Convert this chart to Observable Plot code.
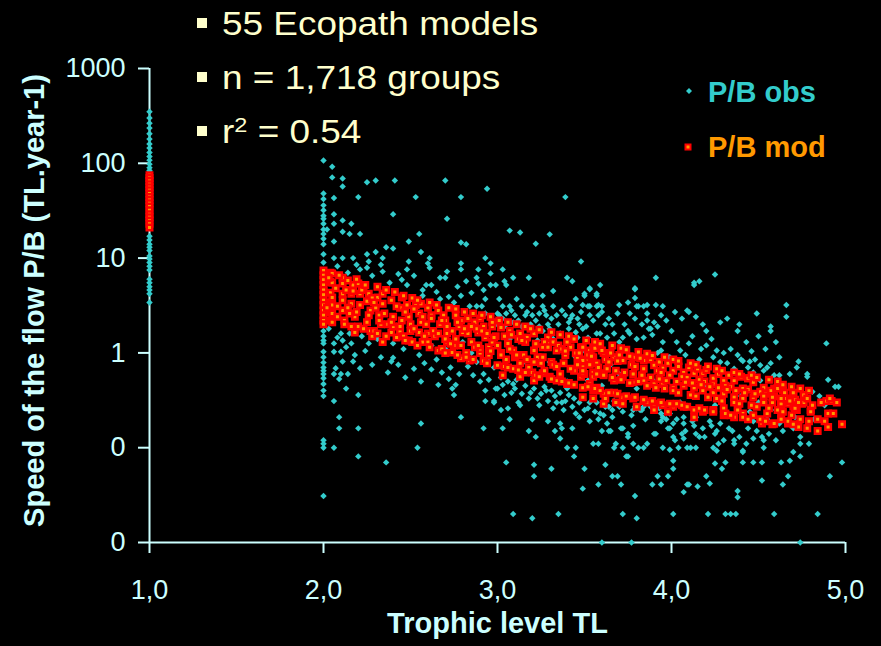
<!DOCTYPE html>
<html>
<head>
<meta charset="utf-8">
<script src="https://cdn.jsdelivr.net/npm/d3@7"></script>
<script src="https://cdn.jsdelivr.net/npm/@observablehq/plot@0.6"></script>
<style>
  html, body { margin: 0; padding: 0; background: #000; }
  #chart { width: 881px; height: 646px; }
</style>
</head>
<body>
<div id="chart"></div>
<script>
// Production/biomass ratio (P/B, per year) of functional groups against trophic level,
// observed values and values predicted by the empirical model.

const xTicks = [1, 2, 3, 4, 5];
const yTicks = [0.01, 0.1, 1, 10, 100, 1000];

const noteLines = ["55 Ecopath models", "n = 1,718 groups", "r2 = 0.54"];
const legendLabels = ["P/B obs", "P/B mod"];

// Observed P/B of primary producers (TL = 1)
const obsProducers = [350, 300, 265, 235, 205, 180, 160, 145, 130, 118, 108, 98, 90, 84, 80,
  17, 15.5, 14, 13, 12, 10.5, 9.8, 9, 8.2, 7.5, 6, 5.5, 5, 4.6, 4.2, 3.4];

// Observed P/B of herbivores / detritivores (TL = 2)
const obsHerbivores = [107, 48, 42, 36, 32, 28, 26, 23, 20, 18, 16, 14, 11, 9, 7, 5.5, 4, 3, 2.4,
  1.7, 1.5, 1.35, 1.26, 1.03, 0.9, 0.79, 0.7, 0.65, 0.6, 0.54, 0.47, 0.4, 0.35, 0.12, 0.11, 0.1, 0.031];

// Observed [TL, P/B] for consumers, TL 2 to 3
const obsLow = [
  [2.05,92],[2.05,71],[2.11,69],[2.11,57],[2.25,63],[2.30,66],[2.41,66],[2.70,66],[2.94,54],[2.20,44],[2.06,43],[2.53,44],[2.79,44],
  [2.06,29],[2.11,25],[2.06,23],[2.16,23],[2.40,29],[2.71,26],[2.02,20],[2.11,19],[2.15,18],[2.21,18],[2.55,18],[2.06,15],[2.49,15],
  [2.79,14.6],[2.82,14],[2.36,13],[2.40,12.6],[2.25,11],[2.30,11.6],[2.56,11.6],[2.06,10],[2.11,10],[2.17,10],[2.34,10],[2.93,10],
  [2.26,9.2],[2.49,9.2],[2.61,10],[2.60,8.8],[2.79,8.8],[2.96,8.8],[2.25,7.9],[2.34,7.2],[2.48,7.6],[2.61,7.9],[2.71,7.2],[2.79,7.6],
  [2.89,7.6],[2.21,7.6],[2.96,6.9],[2.45,5.9],[2.67,6.2],[2.70,6.2],[2.88,6.2],[2.82,5.7],[2.48,5.2],[2.59,5.2],[2.62,5.2],[2.89,5.4],
  [2.96,5.2],[2.99,5.2],[2.79,4.0],[2.57,4.0],[2.67,3.7],[2.93,3.7],[2.75,3.4],[2.84,3.1],[2.88,3.1],[2.91,3.1],[2.93,2.6],[3.0,2.6],
  [2.10,1.6],[2.11,1.35],[2.06,1.26],[2.16,1.26],[2.26,1.26],[2.40,1.26],[2.06,1.03],[2.10,1.03],[2.11,0.81],[2.17,0.81],[2.21,0.69],
  [2.07,0.69],[2.06,0.6],[2.10,0.6],[2.14,0.6],[2.09,0.53],[2.13,0.42],[2.20,0.36],[2.06,0.31],[2.09,0.21],[2.09,0.16],[2.20,0.16],
  [2.06,0.1],[2.20,0.081],[2.36,0.07],[2.54,0.1],[2.56,0.18],[2.79,0.21],[2.92,0.16],[2.40,0.89],[2.39,0.81],[2.46,1.1],[2.62,0.67],
  [2.56,0.5],[2.66,0.46],[2.72,0.53],[2.76,0.46],[2.74,0.42],[2.75,0.36],[2.78,0.6],[2.90,0.5],[2.93,0.4],[2.93,0.31],[2.98,0.31],
  [2.99,0.42],[2.98,0.3],[2.15,1.6],[2.22,1.5],[2.31,1.4],[2.50,1.3],[2.62,1.2],[2.70,1.1],[2.85,1.0],[2.95,0.9],[2.88,0.8],[2.65,0.85],
  [2.55,0.95],[2.80,1.3],[2.98,0.7],[2.92,0.6],
  [2.03,1.8],[2.08,1.45],[2.13,1.15],[2.18,0.95],[2.24,1.05],[2.28,0.75],[2.33,0.9],[2.37,0.62],[2.43,0.75],[2.47,0.55],[2.52,0.68],
  [2.58,0.78],[2.68,0.62],[2.73,0.7],[2.83,0.72],[2.86,0.58],[2.95,0.52],[2.08,8.2],[2.14,7.0],[2.19,8.5],[2.28,6.5],[2.33,8.5],
  [2.38,5.5],[2.43,6.8],[2.52,6.5],[2.57,4.6],[2.65,4.4],[2.72,3.9],[2.77,5.0],[2.85,4.3],[2.92,4.6]
];

// Observed [TL, P/B] for consumers, TL 3 to 4
const obsMid = [
  [3.39,44],[3.07,19.5],[3.13,18.6],[3.30,17.8],[3.22,14.2],[3.48,9.2],[3.03,7.6],[3.09,6.2],[3.18,6.2],[3.40,6.2],[3.43,5.7],[3.91,6.2],
  [3.04,5.7],[3.05,5.2],[3.59,5.2],[3.53,4.7],[3.79,4.7],[3.32,4.5],[3.21,4.0],[3.26,4.0],[3.50,4.0],[3.57,4.0],[3.79,3.8],[3.45,3.7],
  [3.11,3.7],[3.01,3.7],[3.70,3.2],[3.75,3.4],[3.86,3.2],[3.91,3.2],[3.95,3.1],[3.03,3.1],[3.07,3.1],[3.14,3.1],[3.20,3.1],[3.26,3.1],
  [3.32,3.1],[3.42,3.1],[3.49,3.2],[3.52,3.1],[3.57,3.1],[3.60,3.1],[3.80,3.1],[3.84,3.1],[3.01,2.5],[3.05,2.6],[3.10,2.5],[3.16,2.5],
  [3.20,2.5],[3.24,2.6],[3.28,2.5],[3.34,2.5],[3.39,2.5],[3.43,2.5],[3.46,2.3],[3.53,2.5],[3.58,2.5],[3.76,2.6],[3.86,2.6],[3.94,2.5],
  [2.99,2.0],[3.04,1.9],[3.09,2.1],[3.14,1.9],[3.19,2.0],[3.24,1.9],[3.29,2.0],[3.35,2.0],[3.41,2.1],[3.47,2.0],[3.51,1.9],[3.62,2.0],
  [3.66,2.0],[3.79,2.3],[3.86,2.2],[3.90,2.1],[3.88,1.8],[3.26,1.7],[3.30,1.8],[3.36,1.6],[3.41,1.8],[3.45,1.65],[3.49,1.8],[3.57,1.6],
  [3.67,1.6],[3.72,1.45],[3.75,1.7],[3.80,1.4],[3.84,1.45],[3.95,1.3],[3.92,1.0],[3.99,0.9],[3.70,1.3],[3.63,1.45],[3.52,1.45],[3.46,1.45],
  [3.32,1.4],[3.23,1.35],[3.14,1.4],[3.07,1.4],[3.59,1.6],[3.71,1.15],[3.76,1.6],[3.87,1.8],[3.89,1.55],[3.94,1.06],[3.98,0.9],[3.49,1.06],
  [3.00,0.42],[3.03,0.46],[3.09,0.47],[3.14,0.37],[3.18,0.33],[3.25,0.37],[3.29,0.31],[3.34,0.3],[3.37,0.3],[3.41,0.36],[3.45,0.23],
  [3.47,0.21],[3.53,0.3],[3.52,0.26],[3.57,0.3],[3.64,0.27],[3.69,0.3],[3.72,0.24],[3.80,0.26],[3.84,0.27],[3.86,0.31],[3.02,0.25],
  [3.06,0.26],[3.07,0.2],[3.03,0.16],[3.20,0.2],[3.29,0.19],[3.18,0.15],[3.22,0.13],[3.33,0.15],[3.36,0.18],[3.37,0.16],[3.43,0.16],
  [3.36,0.125],[3.53,0.19],[3.58,0.2],[3.63,0.18],[3.60,0.15],[3.65,0.15],[3.72,0.16],[3.78,0.17],[3.75,0.14],[3.55,0.11],[3.58,0.11],
  [3.68,0.11],[3.67,0.1],[3.72,0.1],[3.40,0.1],[3.45,0.1],[3.81,0.1],[3.84,0.1],[3.90,0.14],[3.94,0.19],[3.98,0.16],[3.95,0.1],[3.99,0.095],
  [3.44,0.081],[3.75,0.081],[3.05,0.07],[3.21,0.066],[3.31,0.06],[3.50,0.06],[3.62,0.066],[3.21,0.05],[3.66,0.05],[3.69,0.05],[3.92,0.05],
  [3.98,0.05],[3.58,0.041],[3.71,0.041],[3.89,0.041],[3.94,0.041],[3.49,0.037],[3.79,0.031],[3.09,0.02],[3.20,0.018],[3.35,0.02],
  [3.72,0.02],[3.80,0.018],[3.60,0.01],[3.77,0.01],[3.79,4.8],[3.53,4.8],[3.50,4.2],[3.57,4.2],[3.53,3.1],[3.58,3.2],[3.81,3.1],
  [3.52,0.51],[3.49,0.34],[3.62,0.27],[3.67,0.31],[3.72,0.3],[3.79,0.27],[3.83,0.25],[3.94,0.23],[3.59,0.23],[3.66,0.25],[3.78,0.25],
  [3.82,0.25],[3.71,0.16],[3.64,0.15],[3.75,0.13],[3.78,0.11],[3.86,0.11],[3.74,0.081],[3.91,0.14],[3.99,0.16],[3.95,0.21],[3.99,0.23],
  [3.1,1.0],[3.3,0.8],[3.5,0.7],[3.7,0.6],[3.9,0.5],[3.2,0.6],[3.4,0.5],[3.6,0.45],[3.8,0.42],[3.15,0.8],[3.45,0.9],[3.65,0.75],
  [3.02,0.55],[3.06,0.5],[3.11,0.52],[3.16,0.45],[3.21,0.42],[3.27,0.44],[3.31,0.4],[3.36,0.38],[3.40,0.42],[3.44,0.33],[3.08,0.38],
  [3.12,0.3],[3.24,0.28],[3.32,0.26],[3.38,0.25],
  [3.03,2.3],[3.08,2.8],[3.12,2.2],[3.17,2.7],[3.22,2.2],[3.27,2.8],[3.31,2.3],[3.37,2.8],[3.42,2.3],[3.48,2.7],[3.55,2.2],[3.6,2.7],
  [3.64,2.3],[3.69,2.6],[3.73,2.0],[3.83,2.0],[3.92,1.9],[3.97,2.2],[3.04,0.36],[3.1,0.42],[3.13,0.28],[3.19,0.38],[3.23,0.33],
  [3.28,0.4],[3.33,0.35],[3.39,0.31],[3.43,0.27],[3.47,0.3],[3.5,0.25],[3.56,0.24],[3.61,0.22],[3.66,0.21],[3.7,0.27],[3.77,0.22],
  [3.85,0.2],[3.88,0.27],[3.93,0.26],[3.97,0.2]
];

// Observed [TL, P/B] for consumers, TL 4 to 5
const obsHigh = [
  [4.25,6.7],[4.13,5.5],[4.13,5.2],[4.16,5.7],[4.66,3.2],[4.66,2.4],[4.49,2.6],[4.32,2.3],[4.39,2.0],[4.38,1.7],[4.57,1.9],[4.57,1.7],
  [4.60,1.3],[4.89,1.26],[4.06,2.3],[4.14,2.4],[4.18,2.0],[4.02,2.7],[4.10,2.7],[4.09,2.8],[4.00,1.7],[4.23,1.4],[4.46,1.04],[4.54,1.1],
  [4.40,0.85],[4.45,0.81],[4.73,0.81],[4.72,0.7],[4.78,0.6],[4.78,0.56],[4.62,0.58],[4.59,0.58],[4.90,0.52],[4.94,0.44],[4.96,0.44],
  [4.81,0.39],[4.66,0.31],[4.71,0.21],[4.74,0.13],[4.74,0.11],[4.79,0.11],[4.70,0.09],[4.74,0.081],[4.98,0.07],[4.91,0.05],[4.67,0.05],
  [4.64,0.041],[4.68,0.073],[4.63,0.07],[4.52,0.045],[4.52,0.07],[4.47,0.07],[4.38,0.035],[4.38,0.03],[4.41,0.07],[4.41,0.09],[4.36,0.11],
  [4.53,0.12],[4.53,0.1],[4.31,0.07],[4.29,0.06],[4.25,0.068],[4.20,0.05],[4.22,0.042],[4.15,0.039],[4.10,0.041],[4.07,0.034],[4.01,0.02],
  [4.21,0.02],[4.31,0.02],[4.34,0.02],[4.37,0.02],[4.59,0.02],[4.84,0.02],[4.74,0.01],[4.01,0.073],[4.01,0.06],[4.09,0.041],[4.07,0.125],
  [4.01,0.13],[4.04,0.1],[4.09,0.1],[4.11,0.1],[4.14,0.1],[4.24,0.1],[4.26,0.093],[4.06,0.14],[4.14,0.14],[4.02,0.12],[4.07,0.21],
  [4.14,0.21],[4.18,0.16],[4.25,0.14],[4.30,0.12],[4.36,0.12],[4.41,0.093],[4.47,0.125],[4.52,0.13],[4.44,0.16],[4.47,0.19],[4.35,0.15],
  [4.22,0.19],[4.28,0.18],[4.01,0.18],[4.07,0.18],[4.05,1.06],[4.10,1.26],[4.17,1.1],[4.24,0.9],[4.30,1.0],[4.36,0.68],[4.41,0.82],
  [4.47,0.62],[4.51,0.51],[4.32,0.78],[4.26,1.06],[4.44,0.7],[4.51,0.74],[4.53,0.65],[4.57,0.78],[4.1,0.5],[4.2,0.45],[4.3,0.4],
  [4.4,0.35],[4.5,0.3],[4.6,0.25],[4.05,0.3],[4.15,0.25],[4.25,0.28],[4.35,0.22],[4.45,0.24],[4.55,0.2],[4.62,0.18],[4.7,0.16],
  [4.82,0.2],[4.88,0.28],[4.85,0.35],[4.13,0.17],[4.16,0.13],[4.26,0.15],
  [4.03,0.2],[4.08,0.15],[4.12,0.19],[4.19,0.13],[4.23,0.17],[4.27,0.11],[4.33,0.16],[4.39,0.13],[4.43,0.11],[4.49,0.15],[4.56,0.14],
  [4.6,0.12],[4.64,0.15],[4.03,1.3],[4.08,0.95],[4.12,1.5],[4.16,0.85],[4.2,1.2],[4.28,0.8],[4.34,1.1],[4.38,0.95],[4.43,1.3],
  [4.48,0.85],[4.55,0.7],[4.62,0.9],[4.68,0.6],[4.5,1.5],[4.2,1.7],[4.28,2.1]
];

// Modelled P/B of primary producers (TL = 1)
const modProducers = [75, 70, 65, 60, 56, 52, 48, 44, 41, 38, 35, 32, 29, 27, 25, 23, 21];

// Modelled [TL, P/B] for consumers, TL 2 to 3
const modLow = [
  [2.0,7.4],[2.0,6.6],[2.0,5.9],[2.0,5.2],[2.0,4.6],[2.0,4.1],[2.0,3.6],[2.0,3.2],[2.0,2.8],[2.0,2.5],[2.0,2.2],[2.0,2.0],
  [2.04,7.0],[2.04,5.6],[2.04,4.3],[2.04,3.4],[2.04,2.7],[2.04,2.2],[2.05,6.9],[2.05,5.5],[2.11,6.2],[2.11,5.4],[2.11,4.2],[2.11,3.6],
  [2.11,2.8],[2.05,3.85],[2.05,3.2],[2.05,2.6],[2.05,2.1],[2.17,5.2],[2.16,4.2],[2.16,3.3],[2.20,5.4],[2.21,4.2],[2.21,3.2],[2.18,2.4],
  [2.18,1.64],[2.23,4.9],[2.26,4.2],[2.27,2.8],[2.25,2.1],[2.27,1.7],[2.31,3.85],[2.32,2.5],[2.33,2.0],[2.34,4.2],[2.39,3.6],[2.40,2.4],
  [2.40,1.9],[2.39,1.64],[2.34,1.3],[2.45,3.85],[2.44,3.0],[2.48,3.2],[2.44,1.7],[2.46,1.5],[2.49,2.4],[2.50,2.0],[2.49,1.35],[2.53,3.2],
  [2.56,3.3],[2.56,2.1],[2.55,1.64],[2.57,1.3],[2.60,3.0],[2.63,1.7],[2.59,2.0],[2.60,1.3],[2.66,2.8],[2.69,2.5],[2.67,2.0],[2.71,1.6],
  [2.71,1.3],[2.76,2.5],[2.74,1.7],[2.79,2.2],[2.80,1.64],[2.83,2.3],[2.83,1.6],[2.87,2.1],[2.89,1.64],[2.92,1.9],[2.93,1.45],[2.97,1.9],
  [2.99,1.5],[2.66,1.06],[2.74,1.01],[2.79,0.88],[2.84,0.83],[2.90,1.0],[2.95,1.15],[2.85,1.3],[2.9,1.1],[2.95,0.95],[2.82,1.0],
  [2.75,1.2],[2.7,1.4],[2.6,1.6],[2.5,1.7],[2.45,2.2],[2.3,3.0],[2.35,2.6],[2.25,3.5],[2.15,2.6],[2.12,2.2],[2.28,1.5],[2.2,1.9],
  [2.62,2.5],[2.55,2.6],[2.7,2.2],[2.78,1.9],[2.88,1.8],[2.93,1.6],[2.97,1.3],[2.97,2.1],[2.9,2.3],
  [2.03,6.2],[2.07,4.8],[2.02,3.0],[2.08,2.4],[2.09,6.6],[2.13,4.6],[2.08,3.1],[2.12,2.0],[2.14,5.8],[2.17,4.5],[2.14,3.0],[2.16,1.9],
  [2.19,6.0],[2.22,4.6],[2.19,2.7],[2.23,1.8],[2.24,5.2],[2.28,3.8],[2.26,2.5],[2.29,1.7],[2.31,5.0],[2.29,3.4],[2.32,2.2],[2.31,1.6],
  [2.36,4.6],[2.34,3.3],[2.37,2.0],[2.36,1.5],[2.41,4.4],[2.42,3.1],[2.39,2.1],[2.42,1.45],[2.46,4.0],[2.47,2.7],[2.44,1.9],[2.47,1.35],
  [2.51,3.8],[2.52,2.9],[2.52,1.8],[2.51,1.3],[2.54,3.6],[2.57,2.4],[2.58,1.5],[2.54,1.2],[2.61,3.4],[2.62,2.3],[2.64,1.5],[2.61,1.15],
  [2.65,3.2],[2.68,2.2],[2.66,1.6],[2.68,1.1],[2.72,3.0],[2.71,1.9],[2.73,1.25],[2.7,1.0],[2.76,2.9],[2.77,2.1],[2.76,1.4],[2.77,0.95],
  [2.81,2.7],[2.81,1.8],[2.79,1.2],[2.82,0.9],[2.86,2.6],[2.85,1.9],[2.87,1.15],[2.86,0.85],[2.91,2.5],[2.91,1.7],[2.89,1.2],[2.92,0.82],
  [2.96,2.4],[2.94,1.6],[2.96,1.05],[2.94,0.78]
];

// Modelled [TL, P/B] for consumers, TL 3 to 5
const modHigh = [
  [3.00,0.74],[3.0,1.2],[3.06,1.26],[3.09,1.06],[3.13,0.78],[3.17,1.45],[3.21,1.06],[3.25,0.78],[3.29,1.26],[3.34,1.06],[3.38,0.78],
  [3.42,1.15],[3.46,0.9],[3.49,0.71],[3.53,1.06],[3.57,0.78],[3.13,0.56],[3.21,0.51],[3.26,0.61],[3.34,0.51],[3.40,0.47],[3.48,0.56],
  [3.53,0.47],[3.57,0.43],[2.98,1.45],[3.02,1.85],[3.07,1.7],[3.13,1.6],[3.21,1.6],[3.29,1.45],[3.32,1.3],[3.40,1.3],[3.48,1.15],
  [3.55,1.15],[3.02,1.0],[3.05,0.85],[3.10,0.9],[3.15,0.95],[3.18,0.7],[3.23,0.9],[3.27,0.65],[3.31,0.8],[3.36,0.6],[3.39,0.95],
  [3.44,0.65],[3.51,0.85],[3.55,0.62],[3.09,0.68],[3.2,0.62],[3.3,0.56],[3.03,0.58],[3.16,1.3],[3.26,1.15],[3.35,1.2],[3.45,1.0],[3.5,0.6],
  [3.49,1.15],[3.56,1.12],[3.49,0.83],[3.55,0.9],[3.61,1.0],[3.67,0.9],[3.72,0.83],[3.78,0.9],[3.84,0.83],[3.90,0.74],[3.95,0.69],
  [4.01,0.65],[4.07,0.62],[4.13,0.61],[4.18,0.61],[4.24,0.54],[4.30,0.51],[4.36,0.51],[4.44,0.54],[4.47,0.49],[4.53,0.43],[4.59,0.42],
  [4.64,0.40],[4.70,0.37],[4.76,0.36],[3.49,0.61],[3.55,0.56],[3.61,0.61],[3.67,0.51],[3.72,0.56],[3.78,0.49],[3.84,0.51],[3.90,0.47],
  [3.95,0.47],[4.01,0.43],[4.07,0.45],[4.13,0.43],[4.18,0.40],[4.24,0.38],[4.30,0.37],[4.36,0.34],[4.41,0.33],[4.47,0.34],[4.53,0.30],
  [4.58,0.30],[4.63,0.28],[4.70,0.27],[3.49,0.43],[3.55,0.40],[3.61,0.37],[3.67,0.38],[3.72,0.34],[3.78,0.33],[3.84,0.31],[3.90,0.29],
  [3.95,0.28],[4.01,0.27],[4.07,0.27],[4.13,0.25],[4.18,0.24],[4.24,0.25],[4.30,0.22],[4.36,0.21],[4.41,0.23],[4.47,0.22],[4.52,0.18],
  [4.59,0.18],[4.67,0.18],[4.73,0.165],[4.78,0.16],[4.84,0.15],[4.90,0.165],[4.98,0.177],[4.89,0.31],[4.92,0.31],[4.95,0.30],[4.90,0.23],
  [4.93,0.23],[3.49,0.34],[3.55,0.33],[3.61,0.29],[3.72,0.29],[3.86,0.30],[4.13,0.21],[4.03,0.29],[4.30,0.26],[4.38,0.25],[4.55,0.23],
  [4.63,0.23],[4.72,0.25],[4.80,0.25],[4.57,0.40],[4.61,0.42],[4.44,0.54],[4.76,0.36],[4.70,0.38],[4.65,0.38],[4.63,0.29],[4.67,0.29],
  [4.71,0.26],[4.75,0.29],[4.63,0.20],[4.58,0.177],[4.67,0.19],[4.70,0.177],[4.80,0.24],[3.60,1.06],[3.65,1.0],[3.70,0.95],[3.76,0.92],
  [3.82,0.88],[3.88,0.85],[3.93,0.8],[3.98,0.78],[4.04,0.72],[4.10,0.7],[4.15,0.68],[4.20,0.66],[4.27,0.6],[4.33,0.58],[4.40,0.56],
  [3.62,0.33],[3.68,0.3],[3.8,0.27],[3.9,0.25],[3.98,0.24],
  [3.01,2.2],[3.04,1.5],[3.02,0.95],[3.04,0.72],[3.06,2.1],[3.08,1.55],[3.07,1.1],[3.06,0.7],[3.11,2.0],[3.12,1.4],[3.11,0.95],[3.12,0.66],
  [3.16,1.9],[3.14,1.35],[3.17,0.85],[3.16,0.62],[3.19,1.8],[3.22,1.25],[3.21,0.8],[3.22,0.58],[3.24,1.75],[3.27,1.3],[3.26,0.9],[3.24,0.56],
  [3.31,1.65],[3.29,1.15],[3.32,0.75],[3.31,0.53],[3.36,1.55],[3.37,1.1],[3.34,0.72],[3.37,0.5],[3.41,1.5],[3.39,1.05],[3.42,0.68],[3.41,0.48],
  [3.44,1.4],[3.47,1.0],[3.46,0.75],[3.44,0.46],[3.51,1.35],[3.52,0.95],[3.49,0.65],[3.52,0.44],[3.56,1.3],[3.54,0.92],[3.57,0.6],[3.56,0.42],
  [3.59,1.25],[3.62,0.85],[3.61,0.58],[3.59,0.4],[3.66,1.2],[3.64,0.8],[3.66,0.55],[3.64,0.38],[3.71,1.12],[3.69,0.82],[3.71,0.52],[3.69,0.37],
  [3.74,1.08],[3.77,0.75],[3.76,0.48],[3.74,0.35],[3.81,1.02],[3.79,0.72],[3.81,0.5],[3.79,0.34],[3.86,0.98],[3.84,0.68],[3.86,0.45],[3.84,0.32],
  [3.89,0.94],[3.92,0.65],[3.91,0.43],[3.89,0.31],[3.96,0.9],[3.94,0.62],[3.96,0.42],[3.94,0.3],[4.01,0.85],[3.99,0.58],[4.01,0.4],[3.99,0.29],
  [4.04,0.82],[4.06,0.56],[4.04,0.38],[4.06,0.28],[4.11,0.78],[4.09,0.55],[4.11,0.36],[4.09,0.27],[4.14,0.75],[4.16,0.52],[4.14,0.35],[4.16,0.26],
  [4.21,0.72],[4.19,0.5],[4.21,0.34],[4.19,0.25],[4.26,0.68],[4.24,0.47],[4.26,0.33],[4.24,0.24],[4.29,0.65],[4.31,0.45],[4.29,0.31],[4.31,0.23],
  [4.36,0.62],[4.34,0.44],[4.36,0.3],[4.34,0.22],[4.39,0.6],[4.41,0.42],[4.39,0.29],[4.41,0.21],[4.46,0.58],[4.44,0.41],[4.46,0.28],[4.44,0.2],
  [4.49,0.55],[4.51,0.39],[4.49,0.27],[4.51,0.2],[4.56,0.52],[4.54,0.37],[4.56,0.26],[4.54,0.19],[4.61,0.5],[4.59,0.35],[4.61,0.25],[4.59,0.18],
  [4.64,0.46],[4.66,0.33],[4.64,0.24],[4.69,0.44],[4.71,0.32],[4.69,0.22],[4.74,0.42],[4.76,0.3],[4.74,0.2],[4.79,0.4],[4.81,0.28],[4.79,0.19],
  [4.86,0.3],[4.84,0.2],[4.91,0.33],[4.88,0.19],
  [3.53,0.75],[3.58,0.7],[3.63,0.68],[3.68,0.65],[3.73,0.62],[3.78,0.6],[3.83,0.58],[3.88,0.55],[3.93,0.53],[3.97,0.51],[4.03,0.5],
  [4.08,0.49],[4.12,0.48],[4.17,0.46],[4.22,0.44],[4.27,0.43],[4.32,0.41],[4.37,0.4],[4.42,0.38],[4.48,0.37],[4.53,0.35],[4.58,0.34],
  [4.63,0.33],[4.68,0.31],[4.73,0.3],[4.78,0.33]
];

const toPoint = ([tl, pb]) => ({tl, pb});
const observed = [
  ...obsProducers.map(pb => ({tl: 1, pb})),
  ...obsHerbivores.map(pb => ({tl: 2, pb})),
  ...obsLow.map(toPoint), ...obsMid.map(toPoint), ...obsHigh.map(toPoint)
];
const modelled = [
  ...modProducers.map(pb => ({tl: 1, pb})),
  ...modLow.map(toPoint), ...modHigh.map(toPoint)
];

const AXIS = "#ccffff";
const OBS = "#33cccc";
const MOD_FILL = "#ff9900";
const MOD_EDGE = "#ff0000";
const NOTE = "#ffffcc";
const FONT = "'Liberation Sans', Arial, Helvetica, sans-serif";

const fmtX = d => d.toFixed(1).replace(".", ",");
const fmtY = d => d < 1 ? "0" : String(d);

const chart = Plot.plot({
  width: 881,
  height: 646,
  marginLeft: 149,
  marginRight: 36,
  marginTop: 68,
  marginBottom: 104,
  style: {background: "#000", color: AXIS, fontFamily: FONT, fontSize: "27px", overflow: "visible"},
  x: {domain: [1, 5], label: null},
  y: {type: "log", domain: [0.01, 1000], label: null},
  marks: [
    Plot.axisY({ticks: yTicks, tickFormat: fmtY, tickSize: 11, tickPadding: 13, strokeWidth: 2, fontSize: 27, label: null}),
    Plot.axisX({ticks: xTicks, tickFormat: fmtX, tickSize: 11, tickPadding: 26, strokeWidth: 2, fontSize: 27, label: null}),
    Plot.ruleX([1], {y1: 0.01, y2: 1000, stroke: AXIS, strokeWidth: 2}),
    Plot.ruleY([0.01], {x1: 1, x2: 5, stroke: AXIS, strokeWidth: 2}),
    Plot.dot(observed, {x: "tl", y: "pb", symbol: "diamond2", r: 2.9, fill: OBS}),
    Plot.dot(modelled, {x: "tl", y: "pb", symbol: "square", r: 3.1, fill: MOD_FILL, stroke: MOD_EDGE, strokeWidth: 2.5}),
    Plot.text(["Trophic level TL"], {frameAnchor: "bottom", dy: 90, fontWeight: "bold", fontSize: 29, fill: AXIS}),
    Plot.text(["Speed of the flow P/B (TL.year-1)"], {frameAnchor: "left", dx: -115, dy: -5, rotate: -90, textAnchor: "middle", fontWeight: "bold", fontSize: 29, fill: AXIS})
  ]
});

document.getElementById("chart").appendChild(chart);

// Key figures of the study, top left
const svg = d3.select(chart);
const notes = svg.append("g").attr("fill", NOTE).attr("font-family", FONT).attr("font-size", 33).attr("text-anchor", "start");
noteLines.forEach((line, i) => {
  const base = 35 + i * 54;
  notes.append("rect").attr("x", 197).attr("y", base - 17).attr("width", 10).attr("height", 10);
  const t = notes.append("text").attr("transform", `translate(222,${base}) scale(1.12,1)`);
  if (line.startsWith("r2")) {
    t.append("tspan").text("r");
    t.append("tspan").attr("font-size", 21).attr("dy", -11).text("2");
    t.append("tspan").attr("dy", 11).text(line.slice(2));
  } else {
    t.text(line);
  }
});

// Legend, top right
const legend = svg.append("g").attr("font-family", FONT).attr("font-weight", "bold").attr("font-size", 29).attr("text-anchor", "start");
legend.append("path").attr("d", "M689,88L692,91L689,94L686,91Z").attr("fill", OBS);
legend.append("text").attr("x", 708).attr("y", 102).attr("fill", OBS).text(legendLabels[0]);
legend.append("rect").attr("x", 685.5).attr("y", 144.5).attr("width", 5).attr("height", 5)
  .attr("fill", MOD_FILL).attr("stroke", MOD_EDGE).attr("stroke-width", 2);
legend.append("text").attr("x", 708).attr("y", 157).attr("fill", MOD_FILL).text(legendLabels[1]);
</script>
</body>
</html>
